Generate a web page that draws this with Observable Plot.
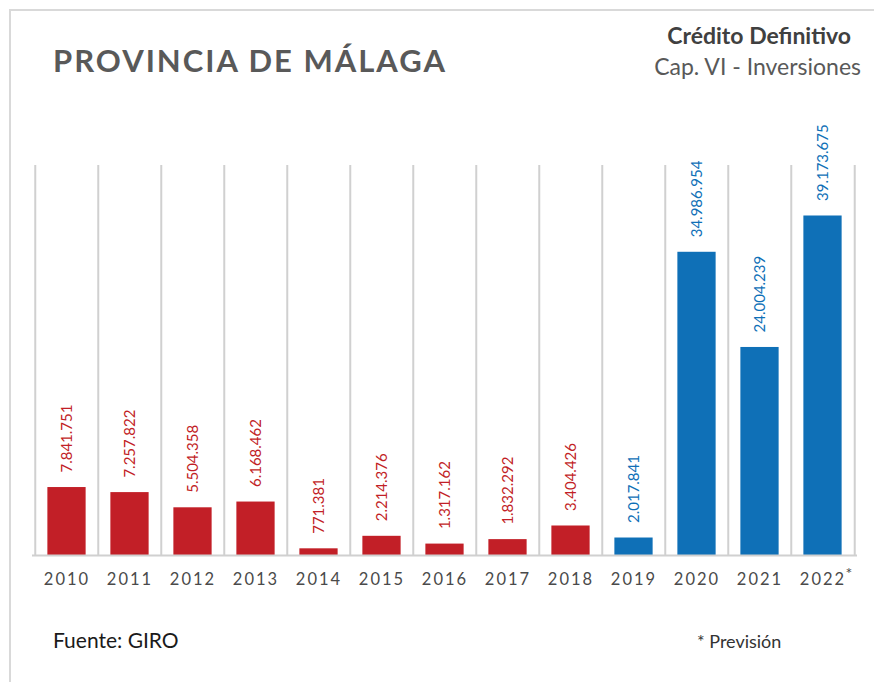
<!DOCTYPE html>
<html>
<head>
<meta charset="utf-8">
<script src="https://cdn.jsdelivr.net/npm/d3@7"></script>
<script src="https://cdn.jsdelivr.net/npm/@observablehq/plot@0.6"></script>
<style>
  html, body { margin: 0; padding: 0; background: #fff; }
  #wrap { position: relative; width: 874px; height: 682px; overflow: hidden; font-family: Lato, "Open Sans", sans-serif; }
  #frame { position: absolute; left: 9px; top: 9px; width: 900px; height: 700px; border-left: 2px solid #d9d9d9; border-top: 2px solid #d9d9d9; }
  .t { position: absolute; white-space: nowrap; }
  #title { left: 53px; top: 41px; font-size: 31px; font-weight: 700; letter-spacing: 2px; color: #595959; }
  #sub1 { right: 23px; top: 21px; font-size: 23px; font-weight: 700; color: #404040; }
  #sub2 { right: 13px; top: 52px; font-size: 23px; color: #595959; }
  #source { left: 53px; top: 627px; font-size: 21px; color: #1a1a1a; }
  #note { left: 697px; top: 630px; font-size: 18px; color: #333; }
  #chart { position: absolute; left: 0; top: 100px; }
  #chart svg g[aria-label="x-axis tick label"] text { letter-spacing: 2px; }
</style>
</head>
<body>
<div id="wrap">
  <div id="frame"></div>
  <div class="t" id="title">PROVINCIA DE MÁLAGA</div>
  <div class="t" id="sub1">Crédito Definitivo</div>
  <div class="t" id="sub2">Cap. VI - Inversiones</div>
  <div id="chart"></div>
  <div class="t" id="source">Fuente: GIRO</div>
  <div class="t" id="note">* Previsión</div>
</div>
<script>
const years = ["2010","2011","2012","2013","2014","2015","2016","2017","2018","2019","2020","2021","2022"];
const values = [7841751, 7257822, 5504358, 6168462, 771381, 2214376, 1317162, 1832292, 3404426, 2017841, 34986954, 24004239, 39173675];
const groups = ["a","a","a","a","a","a","a","a","a","b","b","b","b"];
const forecastYears = ["2022"];

const data = years.map((y, i) => ({year: y, value: values[i], group: groups[i]}));
const locale = d3.formatLocale({decimal: ",", thousands: ".", grouping: [3], currency: ["", "€"]});
const fmt = locale.format(",d");

const width = 874, ml = 32, mr = 17;
const step = (width - ml - mr) / years.length;
const colors = {a: "#C21F27", b: "#0F70B7"};

const chart = Plot.plot({
  width,
  height: 495,
  marginLeft: ml,
  marginRight: mr,
  marginTop: 65,
  marginBottom: 40,
  x: {domain: years, padding: 0, label: null},
  y: {domain: [0, 45000000], axis: null},
  color: {domain: ["a","b"], range: [colors.a, colors.b]},
  style: {fontFamily: "Lato, 'Open Sans', sans-serif", background: "transparent"},
  marks: [
    Plot.ruleX(years, {x: d => d, y1: 0, y2: 45000000, dx: -step/2, stroke: "#d0d0d0", strokeWidth: 2}),
    Plot.ruleX(forecastYears, {x: d => d, y1: 0, y2: 45000000, dx: step/2, stroke: "#d0d0d0", strokeWidth: 2}),
    Plot.barY(data, {x: "year", y: "value", fill: "group", insetLeft: step*0.195, insetRight: step*0.195}),
    Plot.ruleY([0], {stroke: "#d0d0d0", strokeWidth: 2}),
    Plot.axisX({tickSize: 0, tickPadding: 18, fontSize: 16.5, fill: "#4a4a4a", label: null}),
    Plot.text(data, {x: "year", y: "value", text: d => fmt(d.value), rotate: -90, textAnchor: "start", lineAnchor: "middle", dy: -15, fill: d => colors[d.group], fontSize: 15}),
    Plot.text(forecastYears, {x: d => d, y: 0, text: () => "*", dy: 18, dx: 26, fontSize: 16, fill: "#4a4a4a"})
  ]
});
document.getElementById("chart").appendChild(chart);
</script>
</body>
</html>
